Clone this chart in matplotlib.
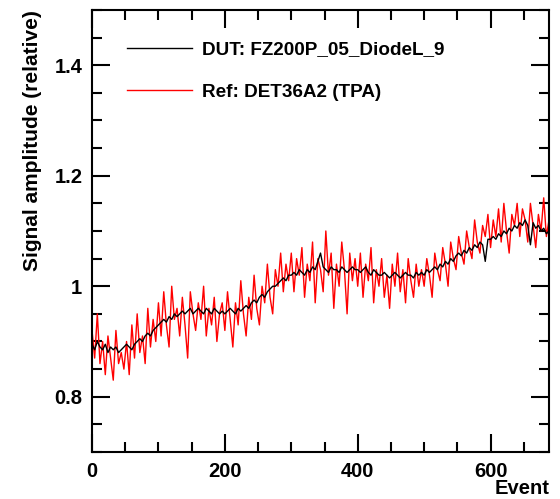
import numpy as np
import matplotlib
matplotlib.use("Agg")
import matplotlib.pyplot as plt
from matplotlib.ticker import MultipleLocator

plt.rcParams['font.family'] = ['Liberation Sans', 'DejaVu Sans']
plt.rcParams['font.weight'] = 'bold'

event_step = 4
dut_values = [
    0.895,0.885,0.90,0.89,0.885,0.895,0.88,0.89,0.885,0.89,0.88,0.885,0.89,0.895,0.89,0.885,0.895,0.90,0.905,0.90,0.91,0.915,0.91,0.92,0.925,
    0.93,0.935,0.94,0.935,0.945,0.94,0.95,0.945,0.95,0.955,0.95,0.955,0.96,0.95,0.955,0.96,0.955,0.95,0.96,0.955,0.95,0.96,0.955,0.95,0.955,
    0.95,0.955,0.96,0.955,0.95,0.96,0.955,0.96,0.965,0.96,0.97,0.975,0.97,0.98,0.985,0.98,0.99,0.995,1.0,1.0,1.005,1.01,1.015,1.01,1.02,
    1.02,1.025,1.02,1.03,1.025,1.02,1.03,1.025,1.035,1.03,1.045,1.06,1.035,1.03,1.025,1.035,1.03,1.03,1.025,1.035,1.03,1.025,1.03,1.035,1.03,
    1.03,1.025,1.03,1.035,1.025,1.02,1.03,1.025,1.02,1.02,1.025,1.02,1.015,1.02,1.025,1.02,1.015,1.02,1.025,1.02,1.02,1.015,1.025,1.02,1.025,
    1.02,1.03,1.025,1.03,1.035,1.03,1.04,1.035,1.045,1.04,1.05,1.045,1.055,1.06,1.055,1.065,1.06,1.07,1.065,1.075,1.07,1.08,1.075,1.045,1.085,
    1.085,1.09,1.085,1.095,1.09,1.10,1.095,1.105,1.10,1.11,1.105,1.115,1.11,1.12,1.11,1.075,1.115,1.105,1.11,1.10,1.105,1.095,1.10,
]
ref_values = [
    0.92,0.87,0.95,0.86,0.90,0.84,0.91,0.87,0.83,0.92,0.86,0.88,0.85,0.90,0.84,0.93,0.87,0.95,0.88,0.91,0.86,0.96,0.89,0.94,0.90,
    0.97,0.91,0.99,0.93,0.89,1.00,0.94,0.96,0.91,0.98,0.93,0.87,0.99,0.95,0.92,0.97,0.94,1.00,0.91,0.96,0.93,0.98,0.90,0.95,0.97,
    0.92,0.99,0.94,0.89,0.97,0.93,1.01,0.95,0.91,0.98,0.94,1.02,0.96,0.93,1.00,0.97,1.04,0.98,0.95,1.03,1.00,1.06,0.99,1.04,1.01,
    1.06,0.99,1.05,1.02,1.07,0.98,1.04,1.01,1.08,0.97,1.05,1.03,0.99,1.10,1.02,1.06,0.96,1.04,1.00,1.08,1.03,0.95,1.06,1.01,1.05,
    1.00,1.06,0.98,1.04,1.01,1.07,0.97,1.03,1.00,1.05,0.98,1.02,0.96,1.04,1.00,1.06,0.99,1.03,0.97,1.05,1.01,0.98,1.04,1.00,1.03,
    1.00,1.05,1.02,0.98,1.06,1.03,1.01,1.07,1.04,1.00,1.08,1.05,1.03,1.09,1.06,1.04,1.10,1.07,1.05,1.12,1.08,1.06,1.11,1.09,1.13,
    1.07,1.12,1.09,1.14,1.08,1.15,1.10,1.06,1.13,1.11,1.15,1.09,1.14,1.12,1.08,1.15,1.11,1.07,1.13,1.10,1.16,1.09,1.12,
]
events = np.arange(len(dut_values)) * event_step

fig = plt.figure(figsize=(5.6, 4.99), dpi=100)
ax = fig.add_axes([0.1643, 0.0942, 0.8161, 0.8858])

ax.plot(events, ref_values, color='red', lw=1.0, label='Ref: DET36A2 (TPA)')
ax.plot(events, dut_values, color='black', lw=1.0, label='DUT: FZ200P_05_DiodeL_9')

ax.set_xlim(0, 688)
ax.set_ylim(0.7, 1.5)
ax.xaxis.set_major_locator(MultipleLocator(200))
ax.xaxis.set_minor_locator(MultipleLocator(50))
ax.yaxis.set_minor_locator(MultipleLocator(0.05))
ax.set_yticks([0.8, 1.0, 1.2, 1.4])
ax.set_yticklabels(['0.8', '1', '1.2', '1.4'])
ax.tick_params(which='both', direction='in', top=True, right=True, width=1.5, labelsize=14.5)
ax.tick_params(which='major', length=13, pad=7)
ax.tick_params(which='minor', length=7)
for s in ax.spines.values():
    s.set_linewidth(1.5)

ax.set_ylabel('Signal amplitude (relative)', fontsize=15, fontweight='bold', loc='top')
ax.yaxis.set_label_coords(-0.11, 1.0)
ax.set_xlabel('Event', fontsize=14.5, fontweight='bold', loc='right')
ax.xaxis.set_label_coords(1.0, -0.062)

handles, labels = ax.get_legend_handles_labels()
leg = ax.legend(handles[::-1], labels[::-1], loc='upper left', bbox_to_anchor=(0.04, 0.968),
                frameon=False, fontsize=13.6, handlelength=3.4, handletextpad=0.55,
                labelspacing=1.35)

fig.savefig('out.png', dpi=100)
